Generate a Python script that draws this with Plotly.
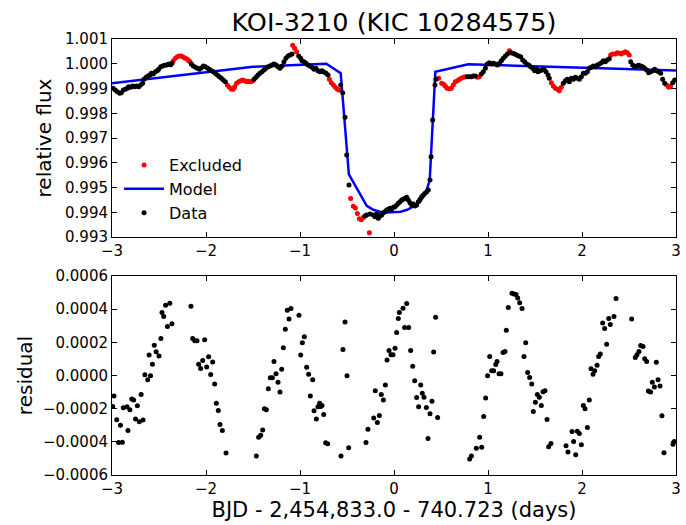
import plotly.graph_objects as go

# ---------------- data ----------------
data_x = [-2.989, -2.965, -2.943, -2.918, -2.901, -2.879, -2.858, -2.837, -2.823, -2.801, -2.780, -2.759,
          -2.738, -2.716, -2.695, -2.674, -2.660, -2.638, -2.617, -2.596, -2.582, -2.560, -2.539, -2.518,
          -2.504, -2.482, -2.461, -2.440, -2.418, -2.397, -2.376, -2.362,
          -2.156, -2.135, -2.113, -2.092, -2.071, -2.050, -2.028, -2.007, -1.986, -1.965, -1.943, -1.922,
          -1.901, -1.879, -1.858, -1.837, -1.816, -1.794,
          -1.489, -1.468, -1.447, -1.426, -1.404, -1.383, -1.362, -1.340, -1.319, -1.298, -1.277, -1.255,
          -1.234, -1.213, -1.191, -1.170, -1.149, -1.128, -1.106, -1.085,
          -1.014, -0.993, -0.979, -0.957, -0.936, -0.915, -0.894, -0.872, -0.851, -0.830, -0.809, -0.787,
          -0.766, -0.745, -0.723, -0.702,
          -0.567, -0.546, -0.521, -0.503, -0.479,
          -0.309, -0.291, -0.255, -0.220, -0.202, -0.184, -0.167, -0.149, -0.131, -0.113, -0.096, -0.078,
          -0.060, -0.043, -0.025, -0.007, 0.011, 0.028, 0.046, 0.064, 0.082, 0.099, 0.117, 0.135, 0.152,
          0.170, 0.188, 0.206, 0.223, 0.241, 0.259, 0.277, 0.294, 0.312, 0.330, 0.348, 0.365, 0.383, 0.394,
          0.411, 0.436, 0.447,
          0.780, 0.801, 0.823, 0.844, 0.865,
          0.929, 0.950, 0.972, 0.993, 1.014, 1.036, 1.057, 1.078, 1.099, 1.121, 1.142, 1.163, 1.185, 1.206,
          1.241, 1.263, 1.284, 1.305, 1.326, 1.348, 1.369, 1.390, 1.411, 1.433, 1.454, 1.475, 1.496, 1.518,
          1.532, 1.553, 1.574, 1.596, 1.617, 1.638, 1.652,
          1.801, 1.823, 1.844, 1.865, 1.887, 1.908, 1.929, 1.950, 1.972, 1.993, 2.014, 2.035, 2.057, 2.078,
          2.099, 2.121, 2.142, 2.163, 2.184, 2.206, 2.227, 2.248, 2.269, 2.290,
          2.518, 2.539, 2.560, 2.582, 2.603, 2.624, 2.645, 2.667, 2.688, 2.709, 2.730, 2.752, 2.773, 2.794,
          2.816, 2.837, 2.858, 2.879,
          2.965, 2.986]
data_flux = [0.999007, 0.998939, 0.998872, 0.998804, 0.998831, 0.998939, 0.998966, 0.999007, 0.999074,
             0.999047, 0.999101, 0.999074, 0.999101, 0.999074, 0.999141, 0.999209, 0.999370, 0.999451,
             0.999505, 0.999545, 0.999613, 0.999586, 0.999680, 0.999720, 0.999774, 0.999882, 0.999909,
             0.999936, 0.999949, 0.999990, 0.999963, 1.000017,
             0.999990, 0.999909, 0.999855, 0.999815, 0.999774, 0.999828, 0.999909, 0.999882, 0.999828,
             0.999774, 0.999720, 0.999680, 0.999613, 0.999545, 0.999478, 0.999410, 0.999343, 0.999276,
             0.999370, 0.999451, 0.999545, 0.999613, 0.999680, 0.999747, 0.999815, 0.999882, 0.999909,
             0.999949, 0.999990, 0.999949, 0.999882, 0.999815, 0.999909, 1.000084, 1.000219, 1.000313,
             1.000353, 1.000394,
             1.000313, 1.000219, 1.000124, 1.000084, 1.000017, 0.999949, 0.999909, 0.999855, 0.999774,
             0.999815, 0.999720, 0.999680, 0.999720, 0.999667, 0.999613, 0.999545,
             0.999141, 0.998831, 0.997835, 0.996314, 0.995102,
             0.993850, 0.993888, 0.993929, 0.993888, 0.993821, 0.993929, 0.993754, 0.993848, 0.993888,
             0.993983, 0.994023, 0.994090, 0.994117, 0.994158, 0.994117, 0.994198, 0.994225, 0.994293,
             0.994360, 0.994427, 0.994495, 0.994522, 0.994562, 0.994602, 0.994495, 0.994387, 0.994293,
             0.994333, 0.994252, 0.994293, 0.994427, 0.994522, 0.994629, 0.994697, 0.994764, 0.994831,
             0.994899, 0.995303, 0.996246, 0.997727, 0.999142, 0.999371,
             0.999478, 0.999478, 0.999478, 0.999505, 0.999505,
             0.999586, 0.999680, 0.999815, 0.999990, 1.000044, 0.999990, 1.000017, 0.999990, 0.999949,
             1.000017, 1.000124, 1.000219, 1.000313, 1.000394,
             1.000448, 1.000421, 1.000394, 1.000353, 1.000313, 1.000286, 1.000150, 1.000080, 0.999990,
             0.999949, 0.999882, 0.999815, 0.999720, 0.999774,
             0.999680, 0.999720, 0.999747, 0.999774, 0.999680, 0.999545, 0.999410,
             0.999209, 0.999316, 0.999370, 0.999276, 0.999410, 0.999370, 0.999451, 0.999410, 0.999370,
             0.999478, 0.999613, 0.999613, 0.999680, 0.999815, 0.999855, 0.999909, 0.999882, 0.999949,
             0.999990, 1.000044, 1.000124, 1.000084, 1.000151, 1.000200,
             1.000084, 0.999949, 0.999882, 0.999909, 0.999936, 0.999909, 0.999882, 0.999815, 0.999747,
             0.999640, 0.999680, 0.999720, 0.999774, 0.999720, 0.999680, 0.999613, 0.999370, 0.999209,
             0.999235, 0.999343]

excl_x = [-2.348, -2.326, -2.305, -2.284, -2.262, -2.241, -2.220, -2.199, -2.184, -2.170,
          -1.773, -1.752, -1.730, -1.709, -1.695, -1.674, -1.652, -1.631, -1.610, -1.589, -1.567,
          -1.546, -1.525, -1.503,
          -1.078, -1.057, -1.036,
          -0.688, -0.667, -0.645, -0.624, -0.603, -0.582,
          -0.461, -0.433, -0.411, -0.390, -0.369, -0.348, -0.326, -0.262,
          0.475, 0.507, 0.528, 0.546, 0.564, 0.589, 0.610, 0.631, 0.652, 0.674, 0.695, 0.716, 0.738,
          0.759, 0.886, 0.908,
          1.227,
          1.674, 1.695, 1.716, 1.738, 1.759, 1.780,
          2.305, 2.326, 2.355, 2.376, 2.397, 2.418, 2.440, 2.461, 2.482, 2.503,
          2.901, 2.922, 2.943]
excl_flux = [1.000124, 1.000219, 1.000286, 1.000313, 1.000313, 1.000259, 1.000219, 1.000178, 1.000124,
             1.000084,
             0.999141, 0.999047, 0.998966, 0.998966, 0.999074, 0.999209, 0.999276, 0.999316, 0.999343,
             0.999316, 0.999276, 0.999289, 0.999276, 0.999303,
             1.000744, 1.000623, 1.000488,
             0.999370, 0.999235, 0.999141, 0.999047, 0.998966, 0.998939,
             0.994552, 0.994242, 0.994174, 0.993945, 0.993742, 0.993702, 0.993783, 0.993176,
             0.999410, 0.999208, 0.999168, 0.999100, 0.999006, 0.998990, 0.999007, 0.999141, 0.999276,
             0.999316, 0.999370, 0.999410, 0.999451, 0.999478, 0.999451, 0.999478,
             1.000529,
             0.999235, 0.999101, 0.999007, 0.998966, 0.998912, 0.999047,
             1.000353, 1.000394, 1.000394, 1.000448, 1.000421, 1.000394, 1.000448, 1.000488, 1.000448,
             1.000353,
             0.999141, 0.999047, 0.999101]

model_x = [-3.0, -1.5, -0.72, -0.567, -0.48, -0.29, -0.22, -0.15, -0.08, 0.0, 0.07, 0.14, 0.2, 0.28,
           0.34, 0.38, 0.44, 0.79, 3.0]
model_flux = [0.99921, 0.999875, 1.0, 0.99962, 0.99553, 0.99426, 0.9941, 0.99402, 0.99399, 0.99399,
              0.99402, 0.9941, 0.99422, 0.99444, 0.9948, 0.9953, 0.99968, 0.99998, 0.999725]

res_x = [-2.993, -2.979, -2.950, -2.930, -2.910, -2.890, -2.880, -2.840, -2.830, -2.810, -2.790, -2.770,
         -2.750, -2.730, -2.710, -2.690, -2.670, -2.650, -2.620, -2.605, -2.590, -2.570, -2.550, -2.530,
         -2.500, -2.480, -2.468, -2.450, -2.430, -2.410, -2.385, -2.362,
         -2.160, -2.142, -2.120, -2.096, -2.078, -2.057, -2.035, -2.014, -1.993, -1.972, -1.950, -1.929,
         -1.908, -1.890, -1.869, -1.851, -1.826, -1.787,
         -1.465, -1.440, -1.418, -1.397, -1.379, -1.358, -1.337, -1.316, -1.294, -1.277, -1.255, -1.234,
         -1.213, -1.195, -1.177, -1.156, -1.135, -1.117, -1.096,
         -1.011, -0.993, -0.975, -0.954, -0.929, -0.908, -0.890, -0.865, -0.851, -0.826, -0.809, -0.791,
         -0.780, -0.766, -0.748, -0.727, -0.706,
         -0.564, -0.543, -0.521, -0.500, -0.482,
         -0.298, -0.277, -0.216, -0.199, -0.177, -0.156, -0.135, -0.113, -0.092, -0.074, -0.053, -0.032,
         -0.011, 0.011, 0.028, 0.046, 0.057, 0.096, 0.135, 0.113, 0.156, 0.177, 0.199, 0.220, 0.241,
         0.262, 0.284, 0.301, 0.319, 0.344, 0.362, 0.383, 0.404, 0.422, 0.443, 0.464,
         0.805, 0.823, 0.876, 0.911, 0.933, 0.954, 0.975, 0.996, 1.018, 1.039, 1.060, 1.082, 1.096,
         1.117, 1.138, 1.160, 1.181, 1.195, 1.216, 1.255, 1.277, 1.298, 1.316, 1.337, 1.362, 1.383,
         1.401, 1.422, 1.443, 1.465, 1.482, 1.504, 1.525, 1.546, 1.567, 1.585, 1.606, 1.628, 1.645, 1.670,
         1.830, 1.851, 1.894, 1.911, 1.933, 1.950, 1.972, 1.993, 2.014, 2.032, 2.057, 2.078, 2.096,
         2.117, 2.135, 2.160, 2.177, 2.195, 2.220, 2.241, 2.262, 2.284, 2.301, 2.340, 2.362,
         2.528, 2.567, 2.585, 2.606, 2.624, 2.649, 2.667, 2.688, 2.706, 2.730, 2.748, 2.770, 2.791,
         2.809, 2.830, 2.851, 2.872, 2.968, 2.982]
res_val = [-1.87e-4, -1.23e-4, -2.67e-4, -4.04e-4, -3.00e-4, -4.02e-4, -1.95e-4, -1.89e-4, -3.32e-4,
           -2.07e-4, -1.41e-4, -1.47e-4, -2.63e-4, -1.83e-4, -2.79e-4, -1.15e-4, -2.69e-4, 0.04e-4,
           -0.26e-4, 1.23e-4, -0.02e-4, 0.68e-4, 1.83e-4, 1.43e-4, 1.17e-4, 2.23e-4, 3.80e-4, 3.56e-4,
           4.24e-4, 2.95e-4, 4.36e-4, 3.12e-4,
           4.18e-4, 2.23e-4, 2.09e-4, 2.09e-4, 0.68e-4, 0.42e-4, 0.90e-4, 2.15e-4, 0.52e-4, 1.13e-4,
           0.06e-4, 0.82e-4, -0.52e-4, -1.67e-4, -2.11e-4, -2.95e-4, -3.32e-4, -4.68e-4,
           -4.86e-4, -3.72e-4, -3.60e-4, -3.28e-4, -2.01e-4, -2.07e-4, -0.80e-4, -0.14e-4, -0.14e-4,
           0.84e-4, 0.10e-4, -0.40e-4, -1.00e-4, 0.38e-4, 1.67e-4, 2.79e-4, 3.94e-4, 3.40e-4, 4.04e-4,
           3.64e-4, 1.23e-4, 1.97e-4, 2.33e-4, 0.50e-4, 0.08e-4, -1.23e-4, -0.26e-4, -2.13e-4, -2.63e-4,
           -1.89e-4, -1.67e-4, -1.87e-4, -1.81e-4, -2.35e-4, -4.06e-4, -4.12e-4,
           -4.86e-4, 1.57e-4, 3.22e-4, -0.02e-4, -4.36e-4,
           -4.04e-4, -3.24e-4, -2.57e-4, -0.92e-4, -2.83e-4, -2.41e-4, -1.15e-4, -1.47e-4, -0.58e-4,
           0.94e-4, 1.51e-4, 1.25e-4, 1.25e-4, 1.65e-4, 2.59e-4, 3.44e-4, 3.80e-4, 4.06e-4, 4.34e-4,
           2.89e-4, 2.89e-4, 1.51e-4, 0.56e-4, -0.32e-4, -1.33e-4, -1.89e-4, -0.58e-4, -1.07e-4,
           -1.31e-4, -1.93e-4, -3.80e-4, -2.31e-4, -1.55e-4, 1.41e-4, 3.52e-4, -2.53e-4,
           -5.03e-4, -4.86e-4, -4.38e-4, -3.72e-4, -4.32e-4, -2.47e-4, -1.35e-4, -0.02e-4, 1.15e-4,
           0.28e-4, 0.28e-4, 0.66e-4, 0.84e-4, 0.10e-4, 0.10e-4, 1.39e-4, 1.45e-4, 2.73e-4, 4.10e-4,
           4.96e-4, 4.92e-4, 4.88e-4, 4.68e-4, 4.38e-4, 4.04e-4, 1.15e-4, 1.97e-4, 0.18e-4, -0.12e-4,
           -0.52e-4, -2.17e-4, -1.61e-4, -1.15e-4, -1.31e-4, -1.81e-4, -0.98e-4, -0.92e-4, -2.65e-4,
           -4.30e-4, -4.10e-4,
           -4.24e-4, -4.62e-4, -3.38e-4, -3.98e-4, -4.78e-4, -3.36e-4, -3.50e-4, -4.18e-4, -1.81e-4,
           -2.01e-4, -3.14e-4, -1.47e-4, 0.40e-4, 0.08e-4, 0.28e-4, 0.62e-4, 1.15e-4, 1.29e-4, 3.16e-4,
           2.83e-4, 1.89e-4, 3.44e-4, 3.08e-4, 3.56e-4, 4.64e-4,
           3.40e-4, 1.09e-4, 1.25e-4, 1.45e-4, 1.81e-4, 1.75e-4, 1.01e-4, 0.84e-4, -0.94e-4, -1.00e-4,
           -0.40e-4, -0.70e-4, 0.80e-4, -0.26e-4, -0.64e-4, -2.43e-4, -4.66e-4, -4.14e-4, -3.98e-4]

x_ticks = [-3, -2, -1, 0, 1, 2, 3]
flux_ticks = [0.993, 0.994, 0.995, 0.996, 0.997, 0.998, 0.999, 1.000, 1.001]
res_ticks = [-0.0006, -0.0004, -0.0002, 0.0, 0.0002, 0.0004, 0.0006]

FONT = "DejaVu Sans"
W, H = 686, 525
L, R, T, B = 112, 10, 39, 50
plot_h = H - T - B
top_dom = [(475 - 237) / plot_h, 1.0]
bot_dom = [0.0, (475 - 276) / plot_h]

fig = go.Figure()
fig.add_trace(go.Scatter(x=excl_x, y=excl_flux, mode="markers", name="Excluded",
                         marker=dict(color="#ff0000", size=5), xaxis="x", yaxis="y"))
fig.add_trace(go.Scatter(x=model_x, y=model_flux, mode="lines", name="Model",
                         line=dict(color="#0000ff", width=2.5), xaxis="x", yaxis="y"))
fig.add_trace(go.Scatter(x=data_x, y=data_flux, mode="markers", name="Data",
                         marker=dict(color="#000000", size=5), xaxis="x", yaxis="y"))
fig.add_trace(go.Scatter(x=res_x, y=res_val, mode="markers", name="residual", showlegend=False,
                         marker=dict(color="#000000", size=5), xaxis="x2", yaxis="y2"))

axis_common = dict(showline=True, linecolor="black", linewidth=1, mirror="ticks", ticks="inside",
                   ticklen=5, tickcolor="black", tickwidth=1, showgrid=False, zeroline=False,
                   automargin=False,
                   tickfont=dict(family=FONT, size=15, color="black"))

fig.update_layout(
    width=W, height=H,
    margin=dict(l=L, r=R, t=T, b=B, autoexpand=False),
    paper_bgcolor="white", plot_bgcolor="white",
    font=dict(family=FONT, color="black"),
    title=dict(text="KOI-3210 (KIC 10284575)", x=(L + (W - L - R) / 2) / W, xanchor="center",
               y=1 - 22 / H, yanchor="middle", automargin=False,
               font=dict(family=FONT, size=25.5, color="black")),
    xaxis=dict(domain=[0, 1], anchor="y", range=[-3, 3], tickvals=x_ticks, **axis_common),
    yaxis=dict(domain=top_dom, anchor="x", range=[0.993, 1.001], tickvals=flux_ticks,
               tickformat=".3f",
               title=dict(text="relative flux", font=dict(family=FONT, size=20), standoff=8),
               **axis_common),
    xaxis2=dict(domain=[0, 1], anchor="y2", range=[-3, 3], tickvals=x_ticks,
                title=dict(text="BJD - 2,454,833.0 - 740.723 (days)", font=dict(family=FONT, size=21),
                           standoff=4),
                **axis_common),
    yaxis2=dict(domain=bot_dom, anchor="x2", range=[-0.0006, 0.0006], tickvals=res_ticks,
                tickformat=".4f",
                title=dict(text="residual", font=dict(family=FONT, size=20), standoff=4),
                **axis_common),
    legend=dict(x=0.0125, y=0.7496, xanchor="left", yanchor="top", bgcolor="rgba(0,0,0,0)",
                itemwidth=40,
                font=dict(family=FONT, size=16, color="black"), tracegroupgap=0),
    showlegend=True,
)

fig.write_html("out.html")
